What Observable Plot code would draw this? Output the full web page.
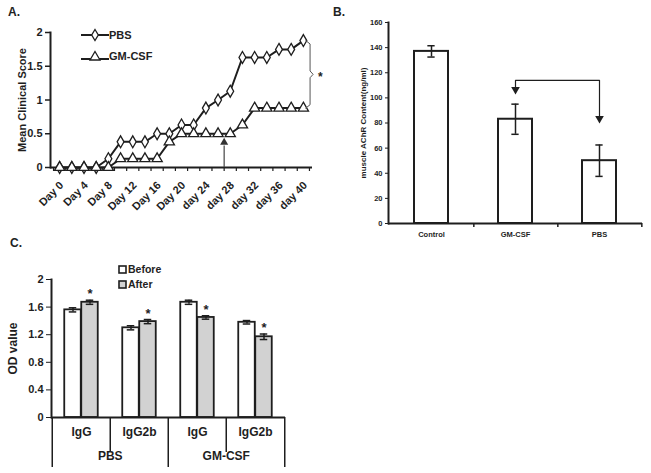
<!DOCTYPE html>
<html><head><meta charset="utf-8">
<script src="https://cdn.jsdelivr.net/npm/d3@7"></script>
<script src="https://cdn.jsdelivr.net/npm/@observablehq/plot@0.6"></script>
<style>
body{margin:0;background:#fff;}
#wrap{position:relative;width:651px;height:473px;overflow:hidden;font-family:"Liberation Sans",Arial,sans-serif;font-weight:bold;color:#222;}
.panel{position:absolute;}
.panel svg{background:transparent;overflow:visible;}
.lab{position:absolute;font-size:12px;line-height:12px;}
.leg{position:absolute;display:flex;align-items:center;white-space:nowrap;}
</style></head><body><div id="wrap"></div>
<script>
// ---------- Panel A data ----------
const days = [0,2,4,6,8,10,12,14,16,18,20,22,24,26,28,30,32,34,36,38,40];
const pbsScore   = [0,0,0,0,0.13,0.38,0.38,0.38,0.5,0.5,0.63,0.63,0.88,1.0,1.13,1.63,1.63,1.63,1.75,1.75,1.88];
const gmcsfScore = [0,0,0,0,0,0.13,0.13,0.13,0.13,0.38,0.5,0.5,0.5,0.5,0.5,0.63,0.88,0.88,0.88,0.88,0.88];
const dayTicks = [0,4,8,12,16,20,24,28,32,36,40];
const dayTickLabels = ["Day 0","Day 4","Day 8","Day 12","Day 16","Day 20","day 24","day 28","day 32","day 36","day 40"];
const scoreTicks = [0,0.5,1,1.5,2];
const treatmentDay = 27;
const treatmentArrowTop = 0.37;

// ---------- Panel B data ----------
const groupsB = ["Control","GM-CSF","PBS"];
const achr = [137,83,50];
const achrErr = [4.5,12,12.5];
const achrTicks = [0,20,40,60,80,100,120,140,160];
const sigPairB = ["GM-CSF","PBS"];
const sigBarB = 114;
const sigTipsB = [105,82];
const sigStarB = 128;

// ---------- Panel C data ----------
const treatmentC = ["PBS","PBS","GM-CSF","GM-CSF"];
const isotypeC = ["IgG","IgG2b","IgG","IgG2b"];
const odBefore = [1.56,1.30,1.67,1.38];
const odBeforeErr = [0.03,0.03,0.03,0.025];
const odAfter = [1.67,1.39,1.45,1.17];
const odAfterErr = [0.03,0.03,0.025,0.04];
const odTicks = [0,0.4,0.8,1.2,1.6,2];

const FONT = "'Liberation Sans', Arial, sans-serif";
const INK = "#1e1e1e";
const wrap = document.getElementById("wrap");
function place(node, left, top){const d=document.createElement("div");d.className="panel";d.style.left=left+"px";d.style.top=top+"px";d.appendChild(node);wrap.appendChild(d);}
function label(txt,left,top,size){const d=document.createElement("div");d.className="lab";d.textContent=txt;d.style.left=left+"px";d.style.top=top+"px";if(size)d.style.fontSize=size+"px";wrap.appendChild(d);}

// ================= Panel A =================
const dataA = days.flatMap((d,i)=>[{day:d,series:"PBS",v:pbsScore[i]},{day:d,series:"GM-CSF",v:gmcsfScore[i]}]);
const lastDay = days[days.length-1];
const braceTop = pbsScore[pbsScore.length-1], braceBot = gmcsfScore[gmcsfScore.length-1], braceMid=(braceTop+braceBot)/2;
const brace = [[lastDay+0.4,braceTop],[lastDay+1.1,braceTop-0.05],[lastDay+1.1,braceMid+0.05],[lastDay+1.6,braceMid],[lastDay+1.1,braceMid-0.05],[lastDay+1.1,braceBot+0.05],[lastDay+0.4,braceBot]];
const oddTicks = d3.range(-1,42,2);
const plotA = Plot.plot({
  width:330,height:230,marginLeft:50,marginRight:18,marginTop:32,marginBottom:63,
  x:{domain:[-1.5,41.5]}, y:{domain:[0,2]},
  style:{fontFamily:FONT,fontWeight:"bold",fontSize:"11px",color:INK,background:"transparent",overflow:"visible"},
  marks:[
    Plot.axisY({ticks:scoreTicks,tickSize:5,tickPadding:3,tickFormat:d=>String(d),label:null,strokeWidth:1.5}),
    Plot.axisX({ticks:oddTicks,tickSize:4,tickFormat:()=>"",label:null,strokeWidth:1.2}),
    Plot.text(dayTicks,{x:d=>d,text:(d,i)=>dayTickLabels[i],frameAnchor:"bottom",rotate:-45,textAnchor:"end",lineAnchor:"middle",dx:2,dy:16,fontSize:11,fill:INK}),
    Plot.text(["Mean Clinical Score"],{frameAnchor:"left",textAnchor:"middle",dx:-28,rotate:-90,fontSize:11,fill:INK}),
    Plot.frame({anchor:"left",strokeWidth:2,stroke:INK}),
    Plot.ruleY([0],{strokeWidth:2,stroke:INK}),
    Plot.ruleX([treatmentDay],{y1:0,y2:treatmentArrowTop-0.05,stroke:"#444",strokeWidth:1.2}),
    Plot.dot([treatmentDay],{x:d=>d,y:treatmentArrowTop,symbol:"triangle",r:3,fill:"#333"}),
    Plot.line(dataA,{x:"day",y:"v",z:"series",stroke:INK,strokeWidth:2}),
    Plot.dot(dataA.filter(d=>d.series==="PBS"),{x:"day",y:"v",symbol:"diamond",r:3.6,fill:"white",stroke:INK,strokeWidth:1.3}),
    Plot.dot(dataA.filter(d=>d.series==="GM-CSF"),{x:"day",y:"v",symbol:"triangle",r:3.8,fill:"white",stroke:INK,strokeWidth:1.3}),
    Plot.line(brace,{x:d=>d[0],y:d=>d[1],stroke:"#555",strokeWidth:1}),
    Plot.text(["*"],{x:lastDay+1.6,y:braceMid,dx:5,dy:3,textAnchor:"start",fontSize:12,fill:INK})
  ]
});
place(plotA,0,0);
label("A.",8,6);
// legend A
function legRow(sym, name, left, top){
  const d=document.createElement("div");d.className="leg";d.style.left=left+"px";d.style.top=top+"px";d.style.fontSize="11px";
  const shape = sym==="diamond" ? '<path d="M14,0.5 L17.3,6 L14,11.5 L10.7,6 Z" fill="white" stroke="'+INK+'" stroke-width="1.3"/>'
                                : '<path d="M14,1.5 L19,10 L9,10 Z" fill="white" stroke="'+INK+'" stroke-width="1.3"/>';
  d.innerHTML='<svg width="28" height="12" style="overflow:visible"><line x1="0" x2="28" y1="'+(sym==="diamond"?6:9)+'" y2="'+(sym==="diamond"?6:9)+'" stroke="'+INK+'" stroke-width="2"/>'+shape+'</svg><span style="margin-left:0px">'+name+'</span>';
  wrap.appendChild(d);
}
legRow("diamond","PBS",81,29);
legRow("triangle","GM-CSF",81,50);

// ================= Panel B =================
const dataB = groupsB.map((g,i)=>({g,v:achr[i],e:achrErr[i]}));
const BW=321,BML=58,BMR=9;
const stepB=(BW-BML-BMR)/groupsB.length;
const bwB=stepB*(1-0.59);
const capB=8;
const plotB = Plot.plot({
  width:BW,height:250,marginLeft:BML,marginRight:BMR,marginTop:22,marginBottom:27,
  x:{domain:groupsB,paddingInner:0.59,paddingOuter:0.295}, y:{domain:[0,160]},
  style:{fontFamily:FONT,fontWeight:"bold",fontSize:"7.5px",color:INK,background:"transparent",overflow:"visible"},
  marks:[
    Plot.axisY({ticks:achrTicks,tickSize:3,tickPadding:3,label:null}),
    Plot.axisX({tickSize:0,tickPadding:8,label:null}),
    Plot.text(["muscle AChR Content(ng/ml)"],{frameAnchor:"left",textAnchor:"middle",dx:-25,rotate:-90,fontSize:8,fill:INK}),
    Plot.barY(dataB,{x:"g",y:"v",fill:"white",stroke:INK,strokeWidth:2}),
    Plot.ruleX(dataB,{x:"g",y1:d=>d.v-d.e,y2:d=>d.v+d.e,stroke:INK,strokeWidth:1.5}),
    Plot.tickY(dataB,{x:"g",y:d=>d.v+d.e,insetLeft:(bwB-capB)/2,insetRight:(bwB-capB)/2,stroke:INK,strokeWidth:1.5}),
    Plot.tickY(dataB,{x:"g",y:d=>d.v-d.e,insetLeft:(bwB-capB)/2,insetRight:(bwB-capB)/2,stroke:INK,strokeWidth:1.5}),
    Plot.ruleX(dataB,{x:"g",y1:0,y2:0,dx:stepB/2,insetBottom:-4,stroke:INK,strokeWidth:1.5}),
    Plot.frame({anchor:"left",strokeWidth:2,stroke:INK}),
    Plot.ruleY([0],{strokeWidth:2,stroke:INK}),
    Plot.line([{g:sigPairB[0],v:sigTipsB[0]+3},{g:sigPairB[0],v:sigBarB},{g:sigPairB[1],v:sigBarB},{g:sigPairB[1],v:sigTipsB[1]+3}],{x:"g",y:"v",stroke:INK,strokeWidth:1.2}),
    Plot.dot(sigPairB.map((g,i)=>({g,v:sigTipsB[i]})),{x:"g",y:"v",symbol:"triangle",rotate:180,r:3.2,dy:-2,fill:INK}),
    Plot.text(["*"],{x:sigPairB[0],y:sigStarB,dx:stepB/2,dy:3,fontSize:11,fill:INK})
  ]
});
place(plotB,330,0);
label("B.",333,6);

// ================= Panel C =================
const keysC = treatmentC.map((t,i)=>t+" "+isotypeC[i]);
const dataC = keysC.map((k,i)=>({k,iso:isotypeC[i],tr:treatmentC[i],b:odBefore[i],be:odBeforeErr[i],a:odAfter[i],ae:odAfterErr[i]}));
const CW=330,CML=51,CMR=45;
const bwC=(CW-CML-CMR)/keysC.length;
const barC=17, gapC=(bwC-2*barC)/2, capC=8;
const plotC = Plot.plot({
  width:CW,height:233,marginLeft:CML,marginRight:CMR,marginTop:39,marginBottom:56,
  x:{domain:keysC,padding:0,axis:null}, y:{domain:[0,2]},
  style:{fontFamily:FONT,fontWeight:"bold",fontSize:"11px",color:INK,background:"transparent",overflow:"visible"},
  marks:[
    Plot.axisY({ticks:odTicks,tickSize:5,tickPadding:3,tickFormat:d=>(d===0||d===2)?String(d):d.toFixed(1),label:null,fontSize:11}),
    Plot.text(["OD value"],{frameAnchor:"left",textAnchor:"middle",dx:-38,rotate:-90,fontSize:12,fill:INK}),
    Plot.barY(dataC,{x:"k",y:"b",fill:"white",stroke:INK,strokeWidth:1.8,insetLeft:gapC,insetRight:gapC+barC}),
    Plot.barY(dataC,{x:"k",y:"a",fill:"#d2d2d2",stroke:INK,strokeWidth:1.8,insetLeft:gapC+barC,insetRight:gapC}),
    Plot.ruleX(dataC,{x:"k",y1:d=>d.b-d.be,y2:d=>d.b+d.be,dx:-barC/2,stroke:INK,strokeWidth:1.5}),
    Plot.ruleX(dataC,{x:"k",y1:d=>d.a-d.ae,y2:d=>d.a+d.ae,dx:barC/2,stroke:INK,strokeWidth:1.5}),
    Plot.tickY(dataC,{x:"k",y:d=>d.b+d.be,insetLeft:gapC+barC/2-capC/2,insetRight:bwC-(gapC+barC/2+capC/2),stroke:INK,strokeWidth:1.5}),
    Plot.tickY(dataC,{x:"k",y:d=>d.b-d.be,insetLeft:gapC+barC/2-capC/2,insetRight:bwC-(gapC+barC/2+capC/2),stroke:INK,strokeWidth:1.5}),
    Plot.tickY(dataC,{x:"k",y:d=>d.a+d.ae,insetRight:gapC+barC/2-capC/2,insetLeft:bwC-(gapC+barC/2+capC/2),stroke:INK,strokeWidth:1.5}),
    Plot.tickY(dataC,{x:"k",y:d=>d.a-d.ae,insetRight:gapC+barC/2-capC/2,insetLeft:bwC-(gapC+barC/2+capC/2),stroke:INK,strokeWidth:1.5}),
    Plot.text(dataC,{x:"k",y:d=>d.a+d.ae,text:()=>"*",dx:barC/2,dy:-6,fontSize:13,fill:INK}),
    Plot.frame({anchor:"left",strokeWidth:2,stroke:INK}),
    Plot.ruleY([0],{strokeWidth:2,stroke:INK}),
    // hierarchical category axis
    Plot.ruleX([keysC[1],keysC[3]],{x:d=>d,y1:0,y2:0,dx:-bwC/2,insetBottom:-35,stroke:INK,strokeWidth:1.5}),
    Plot.ruleX([keysC[0],keysC[2]],{x:d=>d,y1:0,y2:0,dx:-bwC/2,insetBottom:-50,stroke:INK,strokeWidth:1.5}),
    Plot.ruleX([keysC[3]],{x:d=>d,y1:0,y2:0,dx:bwC/2,insetBottom:-50,stroke:INK,strokeWidth:1.5}),
    Plot.text(dataC,{x:"k",text:"iso",frameAnchor:"bottom",dy:18,fontSize:12,fill:INK}),
    Plot.text([keysC[1],keysC[3]],{x:d=>d,text:d=>d.split(" ")[0],frameAnchor:"bottom",dx:-bwC/2,dy:42,fontSize:12,fill:INK})
  ]
});
place(plotC,0,240);
label("C.",10,237);
// legend C
function legC(name, fill, top){
  const d=document.createElement("div");d.className="leg";d.style.left="118px";d.style.top=top+"px";d.style.fontSize="10.5px";
  d.innerHTML='<svg width="9" height="9"><rect x="1" y="1" width="7" height="7" fill="'+fill+'" stroke="'+INK+'" stroke-width="1.6"/></svg><span style="margin-left:1px">'+name+'</span>';
  wrap.appendChild(d);
}
legC("Before","white",263);
legC("After","#d2d2d2",278);
</script></body></html>
